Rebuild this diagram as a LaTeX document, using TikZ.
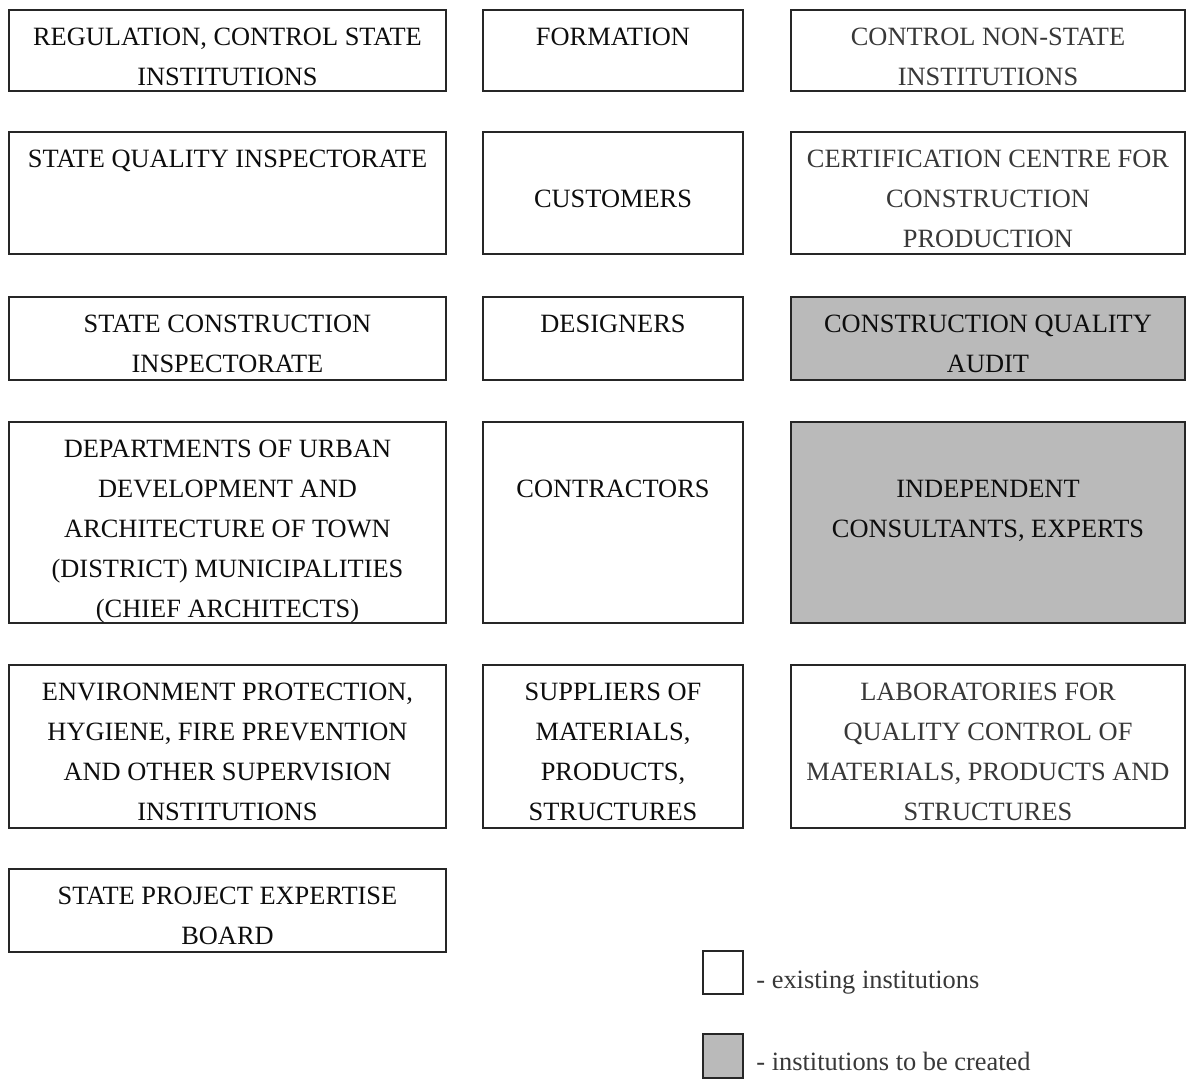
\documentclass[tikz,border=0pt]{standalone}
\usepackage{fontspec}
\setmainfont{Liberation Serif}
\usetikzlibrary{positioning}

\begin{document}
\begin{tikzpicture}[x=0.5pt,y=-0.5pt,
    unit/.style={draw=black!85,line width=1pt,inner sep=0pt,anchor=north west},
    newunit/.style={unit,fill=black!27},
    txt/.style={font=\fontsize{13.2}{20}\selectfont,align=center,inner sep=0pt,text=black!95},
    ntxt/.style={txt,text=black!78}]
    \useasboundingbox (0,0) rectangle (1188,1078);
    \pgfmathsetmacro{\colA}{8}
    \pgfmathsetmacro{\colB}{482}
    \pgfmathsetmacro{\colC}{790}
    % column 1: state institutions
    \node[unit,minimum width=218.5pt,minimum height=40.5pt] (reg) at (\colA,9) {};
    \node[unit,minimum width=218.5pt,minimum height=61pt] (sqi) at (\colA,131) {};
    \node[unit,minimum width=218.5pt,minimum height=41.5pt] (sci) at (\colA,296) {};
    \node[unit,minimum width=218.5pt,minimum height=100.5pt] (dept) at (\colA,421) {};
    \node[unit,minimum width=218.5pt,minimum height=81.5pt] (env) at (\colA,664) {};
    \node[unit,minimum width=218.5pt,minimum height=41.5pt] (spe) at (\colA,868) {};
    \node[txt,below=9.5pt of reg.north] (regT) {REGULATION, CONTROL STATE\\INSTITUTIONS};
    \node[txt,below=9.5pt of sqi.north] (sqiT) {STATE QUALITY INSPECTORATE};
    \node[txt,below=9.5pt of sci.north] (sciT) {STATE CONSTRUCTION\\INSPECTORATE};
    \node[txt,below=9.5pt of dept.north] (deptT) {DEPARTMENTS OF URBAN\\DEVELOPMENT AND\\ARCHITECTURE OF TOWN\\(DISTRICT) MUNICIPALITIES\\(CHIEF ARCHITECTS)};
    \node[txt,below=9.5pt of env.north] (envT) {ENVIRONMENT PROTECTION,\\HYGIENE, FIRE PREVENTION\\AND OTHER SUPERVISION\\INSTITUTIONS};
    \node[txt,below=9.5pt of spe.north] (speT) {STATE PROJECT EXPERTISE\\BOARD};
    % column 2: formation
    \node[unit,minimum width=130pt,minimum height=40.5pt] (form) at (\colB,9) {};
    \node[unit,minimum width=130pt,minimum height=61pt] (cust) at (\colB,131) {};
    \node[unit,minimum width=130pt,minimum height=41.5pt] (des) at (\colB,296) {};
    \node[unit,minimum width=130pt,minimum height=100.5pt] (contr) at (\colB,421) {};
    \node[unit,minimum width=130pt,minimum height=81.5pt] (supp) at (\colB,664) {};
    \node[txt,below=9.5pt of form.north] (formT) {FORMATION};
    \node[txt,below=29.5pt of cust.north] (custT) {CUSTOMERS};
    \node[txt,below=9.5pt of des.north] (desT) {DESIGNERS};
    \node[txt,below=29.5pt of contr.north] (contrT) {CONTRACTORS};
    \node[txt,below=9.5pt of supp.north] (suppT) {SUPPLIERS OF\\MATERIALS,\\PRODUCTS,\\STRUCTURES};
    % column 3: non-state institutions
    \node[unit,minimum width=197pt,minimum height=40.5pt] (nst) at (\colC,9) {};
    \node[unit,minimum width=197pt,minimum height=61pt] (cert) at (\colC,131) {};
    \node[newunit,minimum width=197pt,minimum height=41.5pt] (audit) at (\colC,296) {};
    \node[newunit,minimum width=197pt,minimum height=100.5pt] (cons) at (\colC,421) {};
    \node[unit,minimum width=197pt,minimum height=81.5pt] (lab) at (\colC,664) {};
    \node[ntxt,below=9.5pt of nst.north] (nstT) {CONTROL NON-STATE\\INSTITUTIONS};
    \node[ntxt,below=9.5pt of cert.north] (certT) {CERTIFICATION CENTRE FOR\\CONSTRUCTION\\PRODUCTION};
    \node[txt,below=9.5pt of audit.north] (auditT) {CONSTRUCTION QUALITY\\AUDIT};
    \node[txt,below=29.5pt of cons.north] (consT) {INDEPENDENT\\CONSULTANTS, EXPERTS};
    \node[ntxt,below=9.5pt of lab.north] (labT) {LABORATORIES FOR\\QUALITY CONTROL OF\\MATERIALS, PRODUCTS AND\\STRUCTURES};
    % legend
    \node[unit,minimum width=20pt,minimum height=21.5pt] (lgOld) at (702,950) {};
    \node[newunit,minimum width=20pt,minimum height=22pt] (lgNew) at (702,1033) {};
    \node[ntxt,right=6pt of lgOld.south east,anchor=base west,yshift=3.5pt] (lgOldT) {- existing institutions};
    \node[ntxt,right=6pt of lgNew.south east,anchor=base west,yshift=4.5pt] (lgNewT) {- institutions to be created};
\end{tikzpicture}
\end{document}
